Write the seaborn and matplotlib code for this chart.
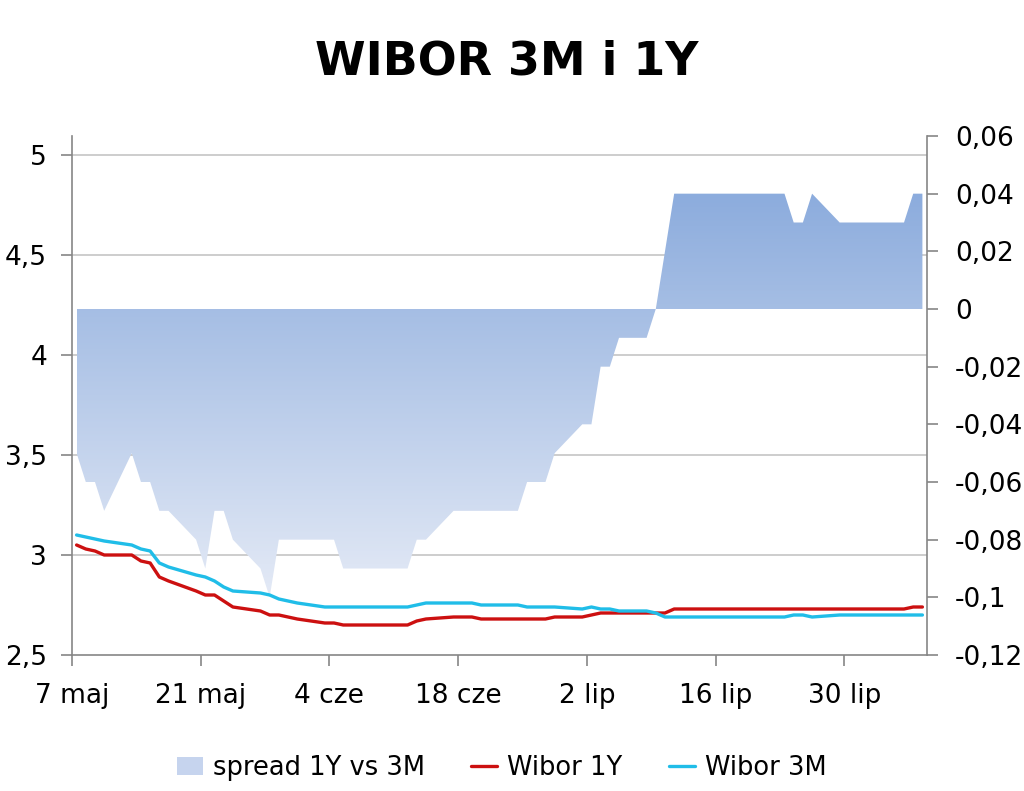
import numpy as np
import pandas as pd
import matplotlib
matplotlib.use("Agg")
import matplotlib.pyplot as plt
import matplotlib.dates as mdates
import matplotlib.transforms as mtransforms
from matplotlib.colors import LinearSegmentedColormap
from matplotlib.patches import Patch
from matplotlib.lines import Line2D
from matplotlib.ticker import FuncFormatter, MultipleLocator
import seaborn as sns

# fixing dates (business days, 2013)
dates = [
    "2013-05-07", "2013-05-08", "2013-05-09", "2013-05-10",
    "2013-05-13", "2013-05-14", "2013-05-15", "2013-05-16", "2013-05-17",
    "2013-05-20", "2013-05-21", "2013-05-22", "2013-05-23", "2013-05-24",
    "2013-05-27", "2013-05-28", "2013-05-29", "2013-05-31",
    "2013-06-03", "2013-06-04", "2013-06-05", "2013-06-06", "2013-06-07",
    "2013-06-10", "2013-06-11", "2013-06-12", "2013-06-13", "2013-06-14",
    "2013-06-17", "2013-06-18", "2013-06-19", "2013-06-20", "2013-06-21",
    "2013-06-24", "2013-06-25", "2013-06-26", "2013-06-27", "2013-06-28",
    "2013-07-01", "2013-07-02", "2013-07-03", "2013-07-04", "2013-07-05",
    "2013-07-08", "2013-07-09", "2013-07-10", "2013-07-11", "2013-07-12",
    "2013-07-15", "2013-07-16", "2013-07-17", "2013-07-18", "2013-07-19",
    "2013-07-22", "2013-07-23", "2013-07-24", "2013-07-25", "2013-07-26",
    "2013-07-29", "2013-07-30", "2013-07-31",
    "2013-08-01", "2013-08-02", "2013-08-05", "2013-08-06", "2013-08-07",
]

wibor_3m = [
    3.10, 3.09, 3.08, 3.07,
    3.05, 3.03, 3.02, 2.96, 2.94,
    2.90, 2.89, 2.87, 2.84, 2.82,
    2.81, 2.80, 2.78, 2.76,
    2.74, 2.74, 2.74, 2.74, 2.74,
    2.74, 2.74, 2.74, 2.75, 2.76,
    2.76, 2.76, 2.76, 2.75, 2.75,
    2.75, 2.74, 2.74, 2.74, 2.74,
    2.73, 2.74, 2.73, 2.73, 2.72,
    2.72, 2.71, 2.69, 2.69, 2.69,
    2.69, 2.69, 2.69, 2.69, 2.69,
    2.69, 2.69, 2.70, 2.70, 2.69,
    2.70, 2.70, 2.70,
    2.70, 2.70, 2.70, 2.70, 2.70,
]

wibor_1y = [
    3.05, 3.03, 3.02, 3.00,
    3.00, 2.97, 2.96, 2.89, 2.87,
    2.82, 2.80, 2.80, 2.77, 2.74,
    2.72, 2.70, 2.70, 2.68,
    2.66, 2.66, 2.65, 2.65, 2.65,
    2.65, 2.65, 2.65, 2.67, 2.68,
    2.69, 2.69, 2.69, 2.68, 2.68,
    2.68, 2.68, 2.68, 2.68, 2.69,
    2.69, 2.70, 2.71, 2.71, 2.71,
    2.71, 2.71, 2.71, 2.73, 2.73,
    2.73, 2.73, 2.73, 2.73, 2.73,
    2.73, 2.73, 2.73, 2.73, 2.73,
    2.73, 2.73, 2.73,
    2.73, 2.73, 2.73, 2.74, 2.74,
]

spread = [
    -0.05, -0.06, -0.06, -0.07,
    -0.05, -0.06, -0.06, -0.07, -0.07,
    -0.08, -0.09, -0.07, -0.07, -0.08,
    -0.09, -0.10, -0.08, -0.08,
    -0.08, -0.08, -0.09, -0.09, -0.09,
    -0.09, -0.09, -0.09, -0.08, -0.08,
    -0.07, -0.07, -0.07, -0.07, -0.07,
    -0.07, -0.06, -0.06, -0.06, -0.05,
    -0.04, -0.04, -0.02, -0.02, -0.01,
    -0.01, 0.00, 0.02, 0.04, 0.04,
    0.04, 0.04, 0.04, 0.04, 0.04,
    0.04, 0.04, 0.03, 0.03, 0.04,
    0.03, 0.03, 0.03,
    0.03, 0.03, 0.03, 0.04, 0.04,
]

tick_dates = ["2013-05-07", "2013-05-21", "2013-06-04", "2013-06-18",
              "2013-07-02", "2013-07-16", "2013-07-30"]
tick_labels = ["7 maj", "21 maj", "4 cze", "18 cze", "2 lip", "16 lip", "30 lip"]

GRAY = "#868686"
RED = "#CC1010"
CYAN = "#20BDE8"

sns.set_theme(style="ticks")
plt.rcParams["font.family"] = ["DejaVu Sans"]
plt.rcParams["text.color"] = "black"

x = pd.to_datetime(dates)
half_day = pd.Timedelta(hours=12)

fig = plt.figure(figsize=(10.24, 7.91), dpi=100)
ax = fig.add_axes([72 / 1024, 1 - 655 / 791, (927 - 72) / 1024, (655 - 136) / 791])
ax_r = ax.twinx()
ax.set_zorder(ax_r.get_zorder() + 1)
ax.patch.set_visible(False)

# limits
ax.set_ylim(2.5, 2.5 + (655 - 136) / 200)
ax_r.set_ylim(-0.12, 0.06)

# gridlines for the left scale, drawn under the area
ax.yaxis.set_major_locator(MultipleLocator(0.5))
grid_tr = mtransforms.blended_transform_factory(ax_r.transAxes, ax.transData)
for v in [3.0, 3.5, 4.0, 4.5, 5.0]:
    ax_r.add_line(Line2D([0, 1], [v, v], transform=grid_tr, color="#C0C0C0", lw=1.1, zorder=0))

# spread area with vertical gradient
poly = ax_r.fill_between(x, 0, spread, facecolor="none", edgecolor="none", linewidth=0)
cmap = LinearSegmentedColormap.from_list("spr", ["#E4EAF6", "#8CACDD"])
grad = np.linspace(0, 1, 256).reshape(-1, 1)
xn = mdates.date2num(x)
img = ax_r.imshow(grad, extent=[xn[0], xn[-1], min(spread), max(spread)],
                  origin="lower", aspect="auto", cmap=cmap, zorder=1)
img.set_clip_path(poly.get_paths()[0], ax_r.transData)

# rates
sns.lineplot(x=x, y=wibor_1y, ax=ax, color=RED, lw=2.4, legend=False)
sns.lineplot(x=x, y=wibor_3m, ax=ax, color=CYAN, lw=2.4, legend=False)

ax.set_xlim(x[0] - half_day, x[-1] + half_day)
ax_r.set_ylim(-0.12, 0.06)
ax.set_ylim(2.5, 2.5 + (655 - 136) / 200)

ax.set_xticks(pd.to_datetime(tick_dates) - half_day)
ax.set_xticklabels(tick_labels)
ax_r.yaxis.set_major_locator(MultipleLocator(0.02))


def comma_fmt(v, pos):
    v = round(v, 2) + 0.0
    return "{:g}".format(v).replace(".", ",")


ax.yaxis.set_major_formatter(FuncFormatter(comma_fmt))
ax_r.yaxis.set_major_formatter(FuncFormatter(comma_fmt))

ax.set_xlabel("")
ax.set_ylabel("")
ax_r.set_ylabel("")

for a in (ax, ax_r):
    for s in a.spines.values():
        s.set_color(GRAY)
        s.set_linewidth(1.2)
    a.spines["top"].set_visible(False)
ax.spines["right"].set_visible(False)
ax_r.spines["left"].set_visible(False)
ax_r.spines["bottom"].set_visible(False)

ax.tick_params(axis="y", direction="out", length=8, width=1.2, color=GRAY,
               labelcolor="black", labelsize=19, pad=10)
ax.tick_params(axis="x", direction="out", length=8, width=1.2, color=GRAY,
               labelcolor="black", labelsize=19, pad=12)
ax_r.tick_params(axis="y", direction="out", length=8, width=1.2, color=GRAY,
                 labelcolor="black", labelsize=19, pad=12)

fig.text(0.495, 1 - 62 / 791, "WIBOR 3M i 1Y", ha="center", va="center",
         fontsize=33, fontweight="bold", color="black")

handles = [
    Patch(facecolor="#C6D4EE", edgecolor="none"),
    Line2D([], [], color=RED, lw=2.4),
    Line2D([], [], color=CYAN, lw=2.4),
]
labels = ["spread 1Y vs 3M", "Wibor 1Y", "Wibor 3M"]
fig.legend(handles, labels, loc="center", bbox_to_anchor=(0.49, 1 - 768 / 791),
           ncol=3, frameon=False, fontsize=18.5, handlelength=1.0,
           handletextpad=0.4, columnspacing=1.8, labelcolor="black")

fig.savefig("out.png", dpi=100)
